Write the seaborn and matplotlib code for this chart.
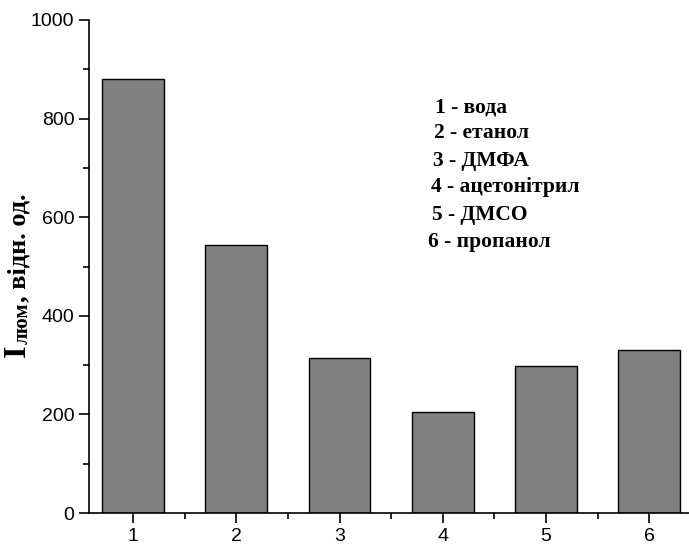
import matplotlib
matplotlib.use("Agg")
import matplotlib.pyplot as plt
import seaborn as sns
import pandas as pd
from matplotlib.ticker import MultipleLocator

categories = ["1", "2", "3", "4", "5", "6"]
values = [880, 544, 314, 205, 298, 331]
legend_lines = ["1 - вода", "2 - етанол", "3 - ДМФА", "4 - ацетонітрил", "5 - ДМСО", "6 - пропанол"]

sns.set_style("ticks")
plt.rcParams["font.family"] = ["Liberation Sans", "DejaVu Sans"]
plt.rcParams.update({"text.color": "black", "axes.labelcolor": "black",
                     "xtick.color": "black", "ytick.color": "black",
                     "axes.edgecolor": "black"})

W, H = 689, 549
fig = plt.figure(figsize=(W / 100, H / 100), dpi=100)
ax = fig.add_axes([89 / W, 1 - 513 / H, (W - 89) / W + 0.01, (513 - 20) / H])

df = pd.DataFrame({"cat": categories, "val": values})
sns.barplot(data=df, x="cat", y="val", color="#808080", saturation=1, width=0.6,
            edgecolor="black", linewidth=1.0, ax=ax)

ax.set_xlim(-0.425, 5.45)
ax.set_ylim(0, 1000)
ax.yaxis.set_major_locator(MultipleLocator(200))
ax.yaxis.set_minor_locator(MultipleLocator(100))
ax.xaxis.set_minor_locator(MultipleLocator(0.5))
sns.despine(ax=ax)
for s in ["left", "bottom"]:
    ax.spines[s].set_linewidth(1.2)
    ax.spines[s].set_color("black")
ax.tick_params(which="major", length=7, width=1.2, labelsize=14, direction="out",
               color="black", labelcolor="black")
ax.tick_params(which="minor", length=4, width=1.2, direction="out", color="black")
ax.set_xlabel("")
ax.set_ylabel("")

# y label built from pieces
fig.canvas.draw()
r = fig.canvas.get_renderer()
serif = ["Liberation Serif", "DejaVu Serif"]
y0 = H - 357
t1 = fig.text(25 / W, y0 / H, "I", rotation=90, rotation_mode="anchor", ha="left", va="baseline",
              fontsize=23, fontweight="bold", family=serif)
bb = t1.get_window_extent(r)
t2 = fig.text(28 / W, (bb.y1 + 1) / H, "люм", rotation=90, rotation_mode="anchor", ha="left",
              va="baseline", fontsize=15, fontweight="bold", family=serif)
bb2 = t2.get_window_extent(r)
fig.text(25 / W, (bb2.y1) / H, ", відн. од.", rotation=90, rotation_mode="anchor", ha="left",
         va="baseline", fontsize=19, fontweight="bold", family=serif)

# legend-like annotations
pos = [(435, 112), (434, 138), (433, 166), (431, 192), (432, 220), (428, 247)]
for (px, py), s in zip(pos, legend_lines):
    fig.text(px / W, 1 - py / H, s, ha="left", va="baseline", fontsize=15.5,
             fontweight="bold", family=serif)

fig.savefig("out.png", dpi=100)
